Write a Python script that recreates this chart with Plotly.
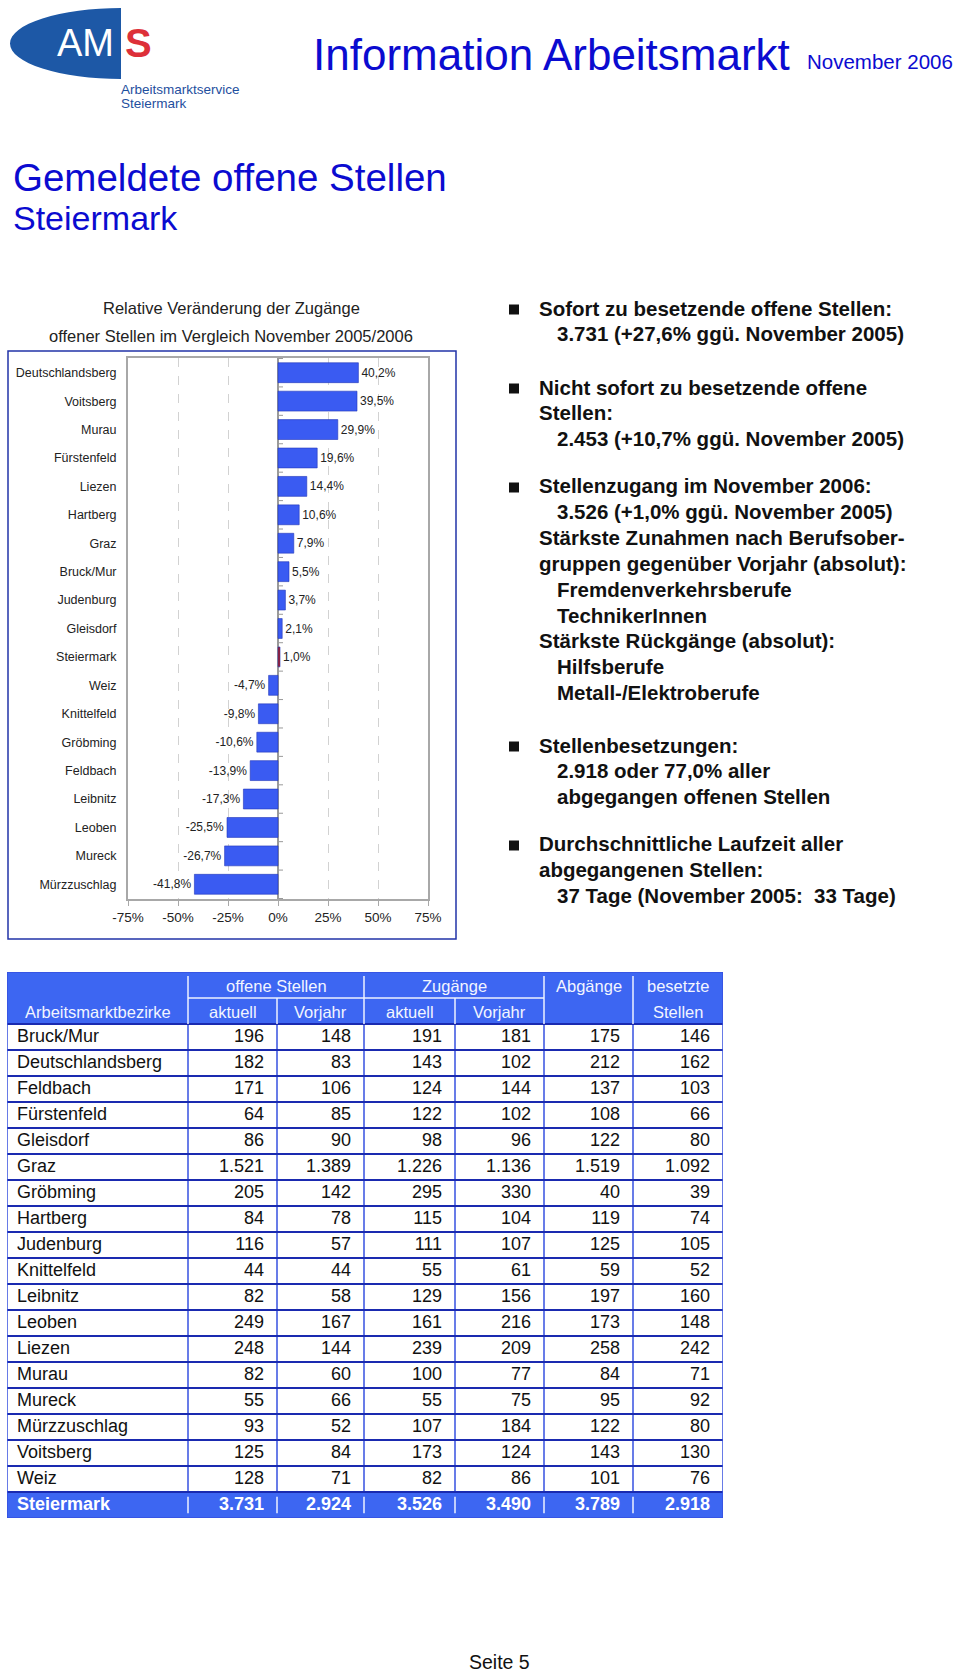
import plotly.graph_objects as go

W, H = 960, 1674

# ---------------- data ----------------
categories = ["Deutschlandsberg", "Voitsberg", "Murau", "Fürstenfeld", "Liezen", "Hartberg",
              "Graz", "Bruck/Mur", "Judenburg", "Gleisdorf", "Steiermark", "Weiz",
              "Knittelfeld", "Gröbming", "Feldbach", "Leibnitz", "Leoben", "Mureck", "Mürzzuschlag"]
change_pct = [40.2, 39.5, 29.9, 19.6, 14.4, 10.6, 7.9, 5.5, 3.7, 2.1, 1.0, -4.7,
              -9.8, -10.6, -13.9, -17.3, -25.5, -26.7, -41.8]
x_tickvals = [-75, -50, -25, 0, 25, 50, 75]
x_ticktext = ["-75%", "-50%", "-25%", "0%", "25%", "50%", "75%"]

districts = ["Bruck/Mur", "Deutschlandsberg", "Feldbach", "Fürstenfeld", "Gleisdorf", "Graz",
             "Gröbming", "Hartberg", "Judenburg", "Knittelfeld", "Leibnitz", "Leoben", "Liezen",
             "Murau", "Mureck", "Mürzzuschlag", "Voitsberg", "Weiz"]
offene_aktuell = [196, 182, 171, 64, 86, 1521, 205, 84, 116, 44, 82, 249, 248, 82, 55, 93, 125, 128]
offene_vorjahr = [148, 83, 106, 85, 90, 1389, 142, 78, 57, 44, 58, 167, 144, 60, 66, 52, 84, 71]
zugang_aktuell = [191, 143, 124, 122, 98, 1226, 295, 115, 111, 55, 129, 161, 239, 100, 55, 107, 173, 82]
zugang_vorjahr = [181, 102, 144, 102, 96, 1136, 330, 104, 107, 61, 156, 216, 209, 77, 75, 184, 124, 86]
abgaenge = [175, 212, 137, 108, 122, 1519, 40, 119, 125, 59, 197, 173, 258, 84, 95, 122, 143, 101]
besetzt = [146, 162, 103, 66, 80, 1092, 39, 74, 105, 52, 160, 148, 242, 71, 92, 80, 130, 76]
total_label = "Steiermark"
totals = [3731, 2924, 3526, 3490, 3789, 2918]

group_headers = ["offene Stellen", "Zugänge", "Abgänge", "besetzte"]
sub_headers = ["Arbeitsmarktbezirke", "aktuell", "Vorjahr", "aktuell", "Vorjahr", "", "Stellen"]

info_groups = [
    [("Sofort zu besetzende offene Stellen:", 0), ("3.731 (+27,6% ggü. November 2005)", 1)],
    [("Nicht sofort zu besetzende offene", 0), ("Stellen:", 0), ("2.453 (+10,7% ggü. November 2005)", 1)],
    [("Stellenzugang im November 2006:", 0), ("3.526 (+1,0% ggü. November 2005)", 1),
     ("Stärkste Zunahmen nach Berufsober-", 0), ("gruppen gegenüber Vorjahr (absolut):", 0),
     ("Fremdenverkehrsberufe", 1), ("TechnikerInnen", 1),
     ("Stärkste Rückgänge (absolut):", 0), ("Hilfsberufe", 1), ("Metall-/Elektroberufe", 1)],
    [("Stellenbesetzungen:", 0), ("2.918 oder 77,0% aller", 1), ("abgegangen offenen Stellen", 1)],
    [("Durchschnittliche Laufzeit aller", 0), ("abgegangenen Stellen:", 0),
     ("37 Tage (November 2005:  33 Tage)", 1)],
]

# ---------------- helpers ----------------
FONT = "Liberation Sans, Arial, sans-serif"


def fx(x):
    return x / W


def fy(y):
    return 1 - y / H


def fmt_int(v):
    return f"{v:,}".replace(",", ".")


def fmt_pct(v):
    return f"{v:.1f}".replace(".", ",") + "%"


BAR_BLUE = "#3A5BF2"
BAR_RED = "#B01818"
HEAD_BLUE = "#3D66F2"
TXT_BLUE = "#0B0BD0"

fig = go.Figure()

# ---------------- bar chart ----------------
fig.add_trace(go.Bar(
    y=categories, x=change_pct, orientation="h",
    marker=dict(color=[BAR_RED if c == "Steiermark" else BAR_BLUE for c in categories],
                line=dict(color="#2438B8", width=0.6)),
    text=[fmt_pct(v) for v in change_pct], textposition="outside",
    textfont=dict(family=FONT, size=12, color="#222"),
    cliponaxis=False, hoverinfo="skip", showlegend=False,
    xaxis="x", yaxis="y",
))

# ---------------- table (cartesian grid) ----------------
col_edges = [0, 181, 270, 357, 448, 537, 626, 716]
n_rows = len(districts)
first_data_row = 2
total_row = first_data_row + n_rows
n_total_rows = total_row + 1
row_centers = [first_data_row + i + 0.5 for i in range(n_rows)]
num_cols = [offene_aktuell, offene_vorjahr, zugang_aktuell, zugang_vorjahr, abgaenge, besetzt]

fig.add_trace(go.Scatter(
    x=[col_edges[0] + 10] * n_rows, y=row_centers, mode="text", text=districts,
    textposition="middle right", textfont=dict(family=FONT, size=18, color="#111"),
    hoverinfo="skip", showlegend=False, xaxis="x3", yaxis="y3", cliponaxis=False,
))
for ci, col in enumerate(num_cols):
    fig.add_trace(go.Scatter(
        x=[col_edges[ci + 2] - 13] * n_rows, y=row_centers, mode="text",
        text=[fmt_int(v) for v in col], textposition="middle left",
        textfont=dict(family=FONT, size=18, color="#111"),
        hoverinfo="skip", showlegend=False, xaxis="x3", yaxis="y3", cliponaxis=False,
    ))
# total row
fig.add_trace(go.Scatter(
    x=[col_edges[0] + 10] + [col_edges[ci + 2] - 13 for ci in range(len(totals))],
    y=[total_row + 0.5] * (len(totals) + 1), mode="text",
    text=[f"<b>{total_label}</b>"] + [f"<b>{fmt_int(v)}</b>" for v in totals],
    textposition=["middle right"] + ["middle left"] * len(totals),
    textfont=dict(family=FONT, size=18, color="#FFFFFF"),
    hoverinfo="skip", showlegend=False, xaxis="x3", yaxis="y3", cliponaxis=False,
))

shapes = []
annotations = []

# table fills
shapes.append(dict(type="rect", xref="x3", yref="y3", x0=col_edges[0], x1=col_edges[-1],
                   y0=0, y1=first_data_row, fillcolor=HEAD_BLUE, line=dict(width=0), layer="below"))
shapes.append(dict(type="rect", xref="x3", yref="y3", x0=col_edges[0], x1=col_edges[-1],
                   y0=total_row, y1=n_total_rows, fillcolor=HEAD_BLUE, line=dict(width=0), layer="below"))
# data grid: vertical lines
for e in col_edges[1:-1]:
    shapes.append(dict(type="line", xref="x3", yref="y3", x0=e, x1=e, y0=first_data_row, y1=total_row,
                       line=dict(color="#3650E0", width=1.5)))
# data grid: horizontal lines
for r in range(first_data_row, total_row + 1):
    shapes.append(dict(type="line", xref="x3", yref="y3", x0=col_edges[0], x1=col_edges[-1], y0=r, y1=r,
                       line=dict(color="#1A2AB0", width=2)))
# outer border
shapes.append(dict(type="rect", xref="x3", yref="y3", x0=col_edges[0], x1=col_edges[-1],
                   y0=0, y1=n_total_rows, line=dict(color="#3650E0", width=1.5)))
# header white separators
HDR_LINE = "#EEF2FF"
for ei in [1, 3, 5, 6]:
    shapes.append(dict(type="line", xref="x3", yref="y3", x0=col_edges[ei], x1=col_edges[ei],
                       y0=0.15, y1=first_data_row, line=dict(color=HDR_LINE, width=1.5)))
for ei in [2, 4]:
    shapes.append(dict(type="line", xref="x3", yref="y3", x0=col_edges[ei], x1=col_edges[ei],
                       y0=1, y1=first_data_row, line=dict(color=HDR_LINE, width=1.5)))
shapes.append(dict(type="line", xref="x3", yref="y3", x0=col_edges[1], x1=col_edges[5], y0=1, y1=1,
                   line=dict(color=HDR_LINE, width=1.5)))
# total row separators
for e in col_edges[1:-1]:
    shapes.append(dict(type="line", xref="x3", yref="y3", x0=e, x1=e, y0=total_row + 0.18,
                       y1=n_total_rows - 0.18, line=dict(color=HDR_LINE, width=1.5)))

# header texts
hdr_font = dict(family=FONT, size=16.5, color="#F2F5FF")
group_spans = [(1, 3), (3, 5), (5, 6), (6, 7)]
for txt, (a, b) in zip(group_headers, group_spans):
    annotations.append(dict(xref="x3", yref="y3", x=(col_edges[a] + col_edges[b]) / 2, y=0.55,
                            text=txt, showarrow=False, font=hdr_font, xanchor="center", yanchor="middle"))
for ci, txt in enumerate(sub_headers):
    if txt:
        annotations.append(dict(xref="x3", yref="y3", x=(col_edges[ci] + col_edges[ci + 1]) / 2, y=1.55,
                                text=txt, showarrow=False, font=hdr_font, xanchor="center", yanchor="middle"))

# tiny tick marks on the zero axis at category boundaries
for k in range(len(categories) + 1):
    shapes.append(dict(type="line", xref="x", yref="y", x0=0, x1=2.5, y0=k - 0.5, y1=k - 0.5,
                       line=dict(color="#9A9A9A", width=1)))

# ---------------- page header ----------------
# logo ellipse (left half)
shapes.append(dict(type="circle", xref="paper", yref="paper", x0=fx(10), x1=fx(232), y0=fy(79), y1=fy(8),
                   fillcolor="#1D58A6", line=dict(width=0), layer="below"))
shapes.append(dict(type="rect", xref="paper", yref="paper", x0=fx(121), x1=fx(240), y0=fy(84), y1=fy(4),
                   fillcolor="white", line=dict(width=0), layer="below"))
annotations += [
    dict(x=fx(85), y=fy(43), text="AM", font=dict(family=FONT, size=38, color="white")),
    dict(x=fx(138), y=fy(43), text="<b>S</b>", font=dict(family=FONT, size=40, color="#DD3039")),
    dict(x=fx(119), y=fy(90), text="Arbeitsmarktservice", xanchor="left",
         font=dict(family=FONT, size=13.5, color="#1F4F9E")),
    dict(x=fx(119), y=fy(103), text="Steiermark", xanchor="left",
         font=dict(family=FONT, size=13.5, color="#1F4F9E")),
    dict(x=fx(311), y=fy(55), text="Information Arbeitsmarkt", xanchor="left",
         font=dict(family=FONT, size=44, color=TXT_BLUE)),
    dict(x=fx(955), y=fy(62), text="November 2006", xanchor="right",
         font=dict(family=FONT, size=20.5, color=TXT_BLUE)),
    dict(x=fx(11), y=fy(178), text="Gemeldete offene Stellen", xanchor="left",
         font=dict(family=FONT, size=38.5, color=TXT_BLUE)),
    dict(x=fx(11), y=fy(218), text="Steiermark", xanchor="left",
         font=dict(family=FONT, size=34, color=TXT_BLUE)),
    # chart title
    dict(x=fx(231), y=fy(308), text="Relative Veränderung der Zugänge",
         font=dict(family=FONT, size=16.5, color="#222")),
    dict(x=fx(231), y=fy(336), text="offener Stellen im Vergleich November 2005/2006",
         font=dict(family=FONT, size=16.5, color="#222")),
    # footer
    dict(x=fx(499), y=fy(1662), text="Seite 5", font=dict(family=FONT, size=19.5, color="#111")),
]

# chart frame
shapes.append(dict(type="rect", xref="paper", yref="paper", x0=fx(8), x1=fx(456), y0=fy(939), y1=fy(351),
                   line=dict(color="#2233A8", width=1.5)))

# ---------------- right-side info text ----------------
group_starts = [308, 387, 486, 745, 844]
line_step = 25.8
info_font = dict(family=FONT, size=20.5, color="#111", weight="bold")
for start, group in zip(group_starts, info_groups):
    shapes.append(dict(type="rect", xref="paper", yref="paper", x0=fx(509), x1=fx(519),
                       y0=fy(start + 6.5), y1=fy(start - 3.5), fillcolor="#111", line=dict(width=0)))
    for li, (txt, level) in enumerate(group):
        annotations.append(dict(x=fx(537 if level == 0 else 555), y=fy(start + li * line_step), text=txt,
                                xanchor="left", font=info_font))

for a in annotations:
    a.setdefault("xref", "paper")
    a.setdefault("yref", "paper")
    a.setdefault("showarrow", False)
    a.setdefault("xanchor", "center")
    a.setdefault("yanchor", "middle")

plot_top, plot_bottom = 358, 899
fig.update_layout(
    width=W, height=H, autosize=False,
    margin=dict(l=0, r=0, t=0, b=0, pad=0, autoexpand=False),
    paper_bgcolor="white", plot_bgcolor="white",
    bargap=0.3, showlegend=False,
    font=dict(family=FONT),
    xaxis=dict(domain=[fx(128), fx(428)], range=[-75, 75], tickvals=x_tickvals, ticktext=x_ticktext,
               tickfont=dict(family=FONT, size=13.5, color="#222"),
               showgrid=True, gridcolor="#D2D2D2", griddash="dash", gridwidth=1,
               zeroline=True, zerolinecolor="#9A9A9A", zerolinewidth=1.5,
               showline=True, linecolor="#A8A8A8", linewidth=2, mirror=True, automargin=False,
               ticks="outside", ticklen=5, tickcolor="#A8A8A8", anchor="y", fixedrange=True),
    yaxis=dict(domain=[fy(plot_bottom), fy(plot_top)], type="category",
               categoryorder="array", categoryarray=categories, autorange="reversed",
               tickfont=dict(family=FONT, size=12.5, color="#222"),
               showline=True, linecolor="#A8A8A8", linewidth=2, mirror=True, automargin=False,
               ticks="", ticklabelstandoff=7, showgrid=False, anchor="x", fixedrange=True),
    xaxis3=dict(domain=[fx(7), fx(723)], range=[col_edges[0], col_edges[-1]], visible=False,
                anchor="y3", fixedrange=True, automargin=False),
    yaxis3=dict(domain=[fy(1518), fy(972)], range=[n_total_rows, 0], visible=False,
                anchor="x3", fixedrange=True, automargin=False),
    shapes=shapes, annotations=annotations,
)

fig.write_html("out.html")
